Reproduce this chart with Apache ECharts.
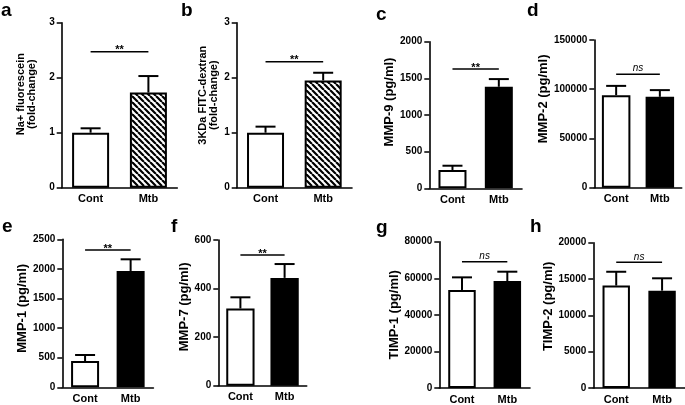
<!DOCTYPE html>
<html>
<head>
<meta charset="utf-8">
<script src="https://cdn.jsdelivr.net/npm/echarts@6/dist/echarts.min.js"></script>
<style>
html,body{margin:0;padding:0;background:#fff;}
#chart{width:685px;height:405px;}
</style>
</head>
<body>
<div id="chart"></div>
<script>
// ---------- data ----------
const categories = ['Cont', 'Mtb'];
const panelLetters = ['a', 'b', 'c', 'd', 'e', 'f', 'g', 'h'];
const yTitles = [
  'Na+ fluorescein\n(fold-change)',
  '3KDa FITC-dextran\n(fold-change)',
  'MMP-9 (pg/ml)',
  'MMP-2 (pg/ml)',
  'MMP-1 (pg/ml)',
  'MMP-7 (pg/ml)',
  'TIMP-1 (pg/ml)',
  'TIMP-2 (pg/ml)'
];
const meanA = [1.00, 1.73];     const semA = [0.08, 0.30];
const meanB = [1.00, 1.95];     const semB = [0.11, 0.14];
const meanC = [250, 1385];      const semC = [58, 105];
const meanD = [94000, 92300];   const semD = [9400, 6800];
const meanE = [444, 1965];      const semE = [102, 197];
const meanF = [318, 444];       const semF = [46, 57];
const meanG = [53600, 58500];   const semG = [6900, 5100];
const meanH = [14100, 13400];   const semH = [1900, 1700];
const sigValues = [2.47, 2.29, 1627, 115300, 2319, 538, 69000, 17310];
const sigLabels = ['**', '**', '**', 'ns', '**', '**', 'ns', 'ns'];
const yMax  = [3, 3, 2000, 150000, 2500, 600, 80000, 20000];
const yStep = [1, 1, 500, 50000, 500, 200, 20000, 5000];

const means = [meanA, meanB, meanC, meanD, meanE, meanF, meanG, meanH];
const sems  = [semA, semB, semC, semD, semE, semF, semG, semH];

// ---------- layout (positions / sizes only) ----------
const layout = [
  {left: 61.7,  top: 22.7,  height: 165,   width: 115.6, barW: 37,   gap: 23.8, shift: 11, letter: [1, 16]},
  {left: 236.7, top: 22.7,  height: 165,   width: 115.3, barW: 37,   gap: 17.7, shift: 10, letter: [181, 16]},
  {left: 429.3, top: 41.7,  height: 146.6, width: 92.7,  barW: 28,   gap: 27.8, shift: 13, letter: [376, 20]},
  {left: 594.3, top: 40,    height: 147.7, width: 87.4,  barW: 28.5, gap: 37.8, shift: 15, letter: [527, 16]},
  {left: 62.3,  top: 239.3, height: 148,   width: 91.1,  barW: 28,   gap: 29,   shift: 5,  letter: [2, 232]},
  {left: 218.3, top: 240,   height: 145.7, width: 88.4,  barW: 28.3, gap: 25,   shift: 6,  letter: [171, 232]},
  {left: 439.3, top: 241.7, height: 146.6, width: 90.7,  barW: 27.5, gap: 33.5, shift: 0,  letter: [376, 233]},
  {left: 593.3, top: 242.7, height: 146.3, width: 94.1,  barW: 27.4, gap: 36.8, shift: 9,  letter: [530, 232]}
];

const FONT = "'Liberation Sans', Arial, Helvetica, sans-serif";

// hatch pattern for Mtb bars in panels a, b
function makeHatch() {
  const c = document.createElement('canvas');
  c.width = 6; c.height = 6;
  const ctx = c.getContext('2d');
  ctx.fillStyle = '#fff';
  ctx.fillRect(0, 0, 6, 6);
  ctx.strokeStyle = '#000';
  ctx.lineWidth = 2.2;
  ctx.beginPath();
  [-6, 0, 6].forEach(function (o) { ctx.moveTo(o, 0); ctx.lineTo(o + 6, 6); });
  ctx.stroke();
  return c;
}
const hatch = {image: makeHatch(), repeat: 'repeat'};

const grids = [], xAxes = [], yAxes = [], series = [], graphics = [];

layout.forEach(function (L, p) {
  grids.push({left: L.left, top: L.top, width: L.width, height: L.height, containLabel: false});
  xAxes.push({
    type: 'category', gridIndex: p, data: categories,
    axisLine: {lineStyle: {color: '#000', width: 1.6}},
    axisTick: {alignWithLabel: true, length: 4, lineStyle: {color: '#000', width: 1.5}},
    axisLabel: {color: '#000', fontSize: 11, fontWeight: 'bold', fontFamily: FONT, margin: 6}
  });
  const twoLine = yTitles[p].indexOf('\n') >= 0;
  yAxes.push({
    type: 'value', gridIndex: p, min: 0, max: yMax[p], interval: yStep[p],
    name: yTitles[p], nameLocation: 'middle', nameRotate: 90, nameGap: L.gap,
    nameTextStyle: {
      color: '#000', fontWeight: 'bold', fontFamily: FONT,
      fontSize: twoLine ? 11 : 13, lineHeight: twoLine ? 11 : 13,
      padding: [0, 0, 0, 2 * L.shift]
    },
    axisLine: {show: true, lineStyle: {color: '#000', width: 1.6}},
    axisTick: {show: true, length: 5, lineStyle: {color: '#000', width: 1.5}},
    axisLabel: {color: '#000', fontSize: 10, fontWeight: 'bold', fontFamily: FONT, margin: 7,
      formatter: function (v) { return String(v); }},
    splitLine: {show: false}
  });
  const mtbFill = p < 2 ? hatch : '#000';
  series.push({
    type: 'bar', xAxisIndex: p, yAxisIndex: p, barWidth: L.barW, silent: true,
    data: means[p].map(function (v, i) {
      return {value: v, itemStyle: {color: i === 0 ? '#fff' : mtbFill, borderColor: '#000', borderWidth: 2}};
    })
  });
  series.push({
    type: 'custom', xAxisIndex: p, yAxisIndex: p, silent: true,
    encode: {x: 0, y: [1, 2]},
    data: means[p].map(function (v, i) { return [i, v, v + sems[p][i]]; }),
    renderItem: function (params, api) {
      const x = api.value(0);
      const b = api.coord([x, api.value(1)]);
      const t = api.coord([x, api.value(2)]);
      const half = 10;
      return {type: 'group', children: [
        {type: 'line', shape: {x1: b[0], y1: b[1], x2: t[0], y2: t[1]}, style: {stroke: '#000', lineWidth: 2}},
        {type: 'line', shape: {x1: t[0] - half, y1: t[1], x2: t[0] + half, y2: t[1]}, style: {stroke: '#000', lineWidth: 2}}
      ]};
    }
  });
  series.push({
    type: 'custom', xAxisIndex: p, yAxisIndex: p, silent: true,
    encode: {x: 0, y: 1},
    data: [[0, sigValues[p]]],
    renderItem: function (params, api) {
      const y = api.value(1);
      const p0 = api.coord([0, y]);
      const p1 = api.coord([1, y]);
      const lab = sigLabels[p];
      const isStar = lab === '**';
      return {type: 'group', children: [
        {type: 'line', shape: {x1: p0[0], y1: p0[1], x2: p1[0], y2: p1[1]}, style: {stroke: '#000', lineWidth: 1.5}},
        {type: 'text', x: (p0[0] + p1[0]) / 2, y: p0[1] + (isStar ? 4 : -0.5),
          style: {text: lab, align: 'center', verticalAlign: 'bottom', fill: '#000',
            font: (isStar ? 'bold 11px ' : 'italic 10px ') + FONT}}
      ]};
    }
  });
  graphics.push({
    type: 'text', x: L.letter[0], y: L.letter[1] + 4,
    style: {text: panelLetters[p], fill: '#000', font: 'bold 19px ' + FONT, align: 'left', verticalAlign: 'bottom'}
  });
});

const chart = echarts.init(document.getElementById('chart'), null, {renderer: 'canvas'});
chart.setOption({
  animation: false,
  backgroundColor: '#fff',
  grid: grids,
  xAxis: xAxes,
  yAxis: yAxes,
  series: series,
  graphic: graphics
});
</script>
</body>
</html>
